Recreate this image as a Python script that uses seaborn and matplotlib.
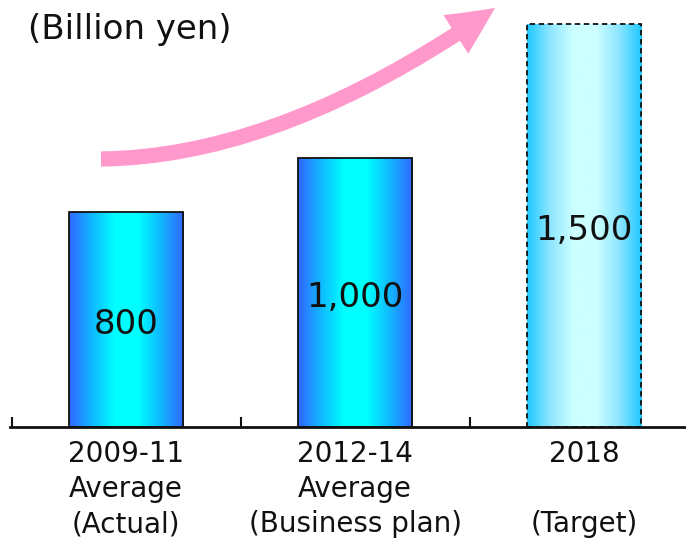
import numpy as np
import pandas as pd
import matplotlib
matplotlib.use("Agg")
import matplotlib.pyplot as plt
from matplotlib.colors import LinearSegmentedColormap
from matplotlib.patches import FancyArrowPatch
from matplotlib.path import Path
import seaborn as sns

# Data
categories = ["2009-11\nAverage\n(Actual)",
              "2012-14\nAverage\n(Business plan)",
              "2018\n\n(Target)"]
values = [800, 1000, 1500]
unit_label = "(Billion yen)"

sns.set_theme(style="white")
plt.rcParams["font.family"] = ["DejaVu Sans"]

df = pd.DataFrame({"period": categories, "value": values})

W, H = 686, 541
fig = plt.figure(figsize=(W / 100, H / 100), dpi=100)
ax = fig.add_axes([10 / W, 114 / H, 1 - 10 / W, 427 / H])

sns.barplot(data=df, x="period", y="value", width=0.5, ax=ax,
            color="white", saturation=1, zorder=3)

# Horizontal gradient fills for the bars
solid_cmap = LinearSegmentedColormap.from_list(
    "solid", ["#3366ff", "#10b8ff", "#00ffff", "#00ffff", "#10b8ff", "#3366ff"])
target_cmap = LinearSegmentedColormap.from_list(
    "target", ["#1ec8ff", "#8fe6ff", "#ccffff", "#ccffff", "#8fe6ff", "#1ec8ff"])
grad = np.linspace(0, 1, 256).reshape(1, -1)

for i, patch in enumerate(ax.patches):
    x0, y0 = patch.get_x(), patch.get_y()
    w, h = patch.get_width(), patch.get_height()
    cmap = target_cmap if i == len(values) - 1 else solid_cmap
    im = ax.imshow(grad, cmap=cmap, aspect="auto",
                   extent=(x0, x0 + w, y0, y0 + h), zorder=2,
                   interpolation="bicubic")
    im.set_clip_path(patch)
    patch.set_facecolor("none")
    patch.set_edgecolor("#111111")
    patch.set_linewidth(1.3)
    if i == len(values) - 1:
        patch.set_linestyle((0, (3, 2)))
    ax.annotate(f"{values[i]:,}", xy=(x0 + w / 2, y0 + h / 2),
                xytext=(0, -3.5), textcoords="offset points",
                ha="center", va="center", fontsize=24.5,
                color="#111111", zorder=4)

ax.set_xlim(-0.507, 2.445)
ax.set_ylim(0, 1590)

# Axis styling: only the baseline with small category separators
for side in ["top", "right", "left"]:
    ax.spines[side].set_visible(False)
ax.spines["bottom"].set_linewidth(2)
ax.spines["bottom"].set_color("#111111")
ax.set_yticks([])
ax.set_xlabel("")
ax.set_ylabel("")
ax.set_xticks([-0.5, 0.5, 1.5], minor=True)
ax.tick_params(axis="x", which="minor", direction="in", length=7,
               width=1.5, color="#111111", bottom=True)
ax.tick_params(axis="x", which="major", length=0, pad=9,
               labelsize=20, labelcolor="#111111")
for lbl in ax.get_xticklabels():
    lbl.set_linespacing(1.34)

# Unit label
fig.text(28 / W, 1 - 29 / H, unit_label, ha="left", va="center",
         fontsize=24.5, color="#111111")

# Growth arrow: quadratic curve in figure pixels
p0, ctrl, p2 = (101, 159), (282, 157), (495, 8)
verts = [(x / W, 1 - y / H) for x, y in (p0, ctrl, p2)]
arrow = FancyArrowPatch(path=Path(verts, [Path.MOVETO, Path.CURVE3, Path.CURVE3]),
                        transform=fig.transFigure,
                        arrowstyle="simple,head_length=3.4,head_width=3.3,tail_width=1.1",
                        mutation_scale=10, color="#ff99cc", lw=0, zorder=5)
fig.patches.append(arrow)

fig.savefig("out.png", dpi=100)
